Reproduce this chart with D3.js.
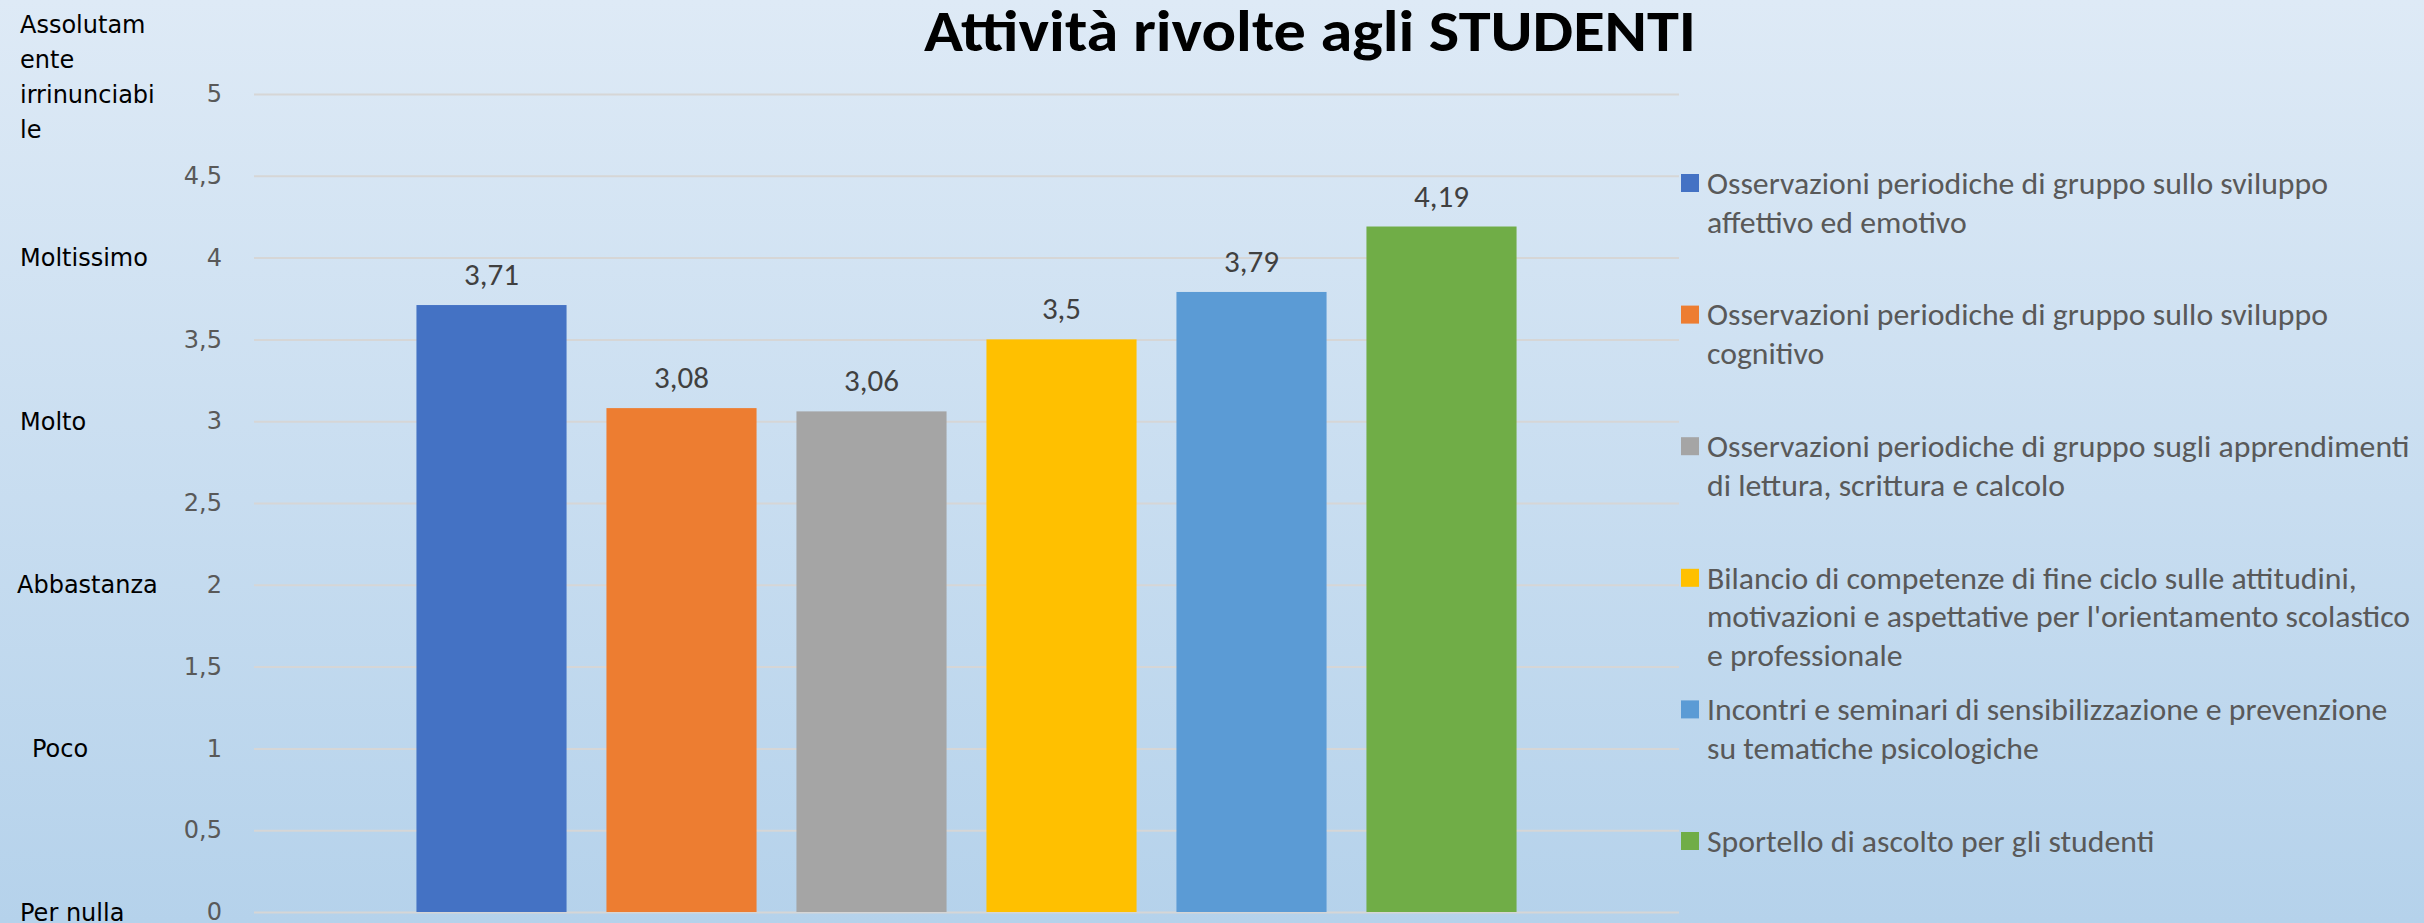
<!DOCTYPE html>
<html>
<head>
<meta charset="utf-8">
<script src="https://cdn.jsdelivr.net/npm/d3@7"></script>
<style>
  body { margin: 0; }
</style>
</head>
<body>
<div id="chart"></div>
<script>
const title = "Attività rivolte agli STUDENTI";
const categories = [
  "Osservazioni periodiche di gruppo sullo sviluppo affettivo ed emotivo",
  "Osservazioni periodiche di gruppo sullo sviluppo cognitivo",
  "Osservazioni periodiche di gruppo sugli apprendimenti di lettura, scrittura e calcolo",
  "Bilancio di competenze di fine ciclo sulle attitudini, motivazioni e aspettative per l'orientamento scolastico e professionale",
  "Incontri e seminari di sensibilizzazione e prevenzione su tematiche psicologiche",
  "Sportello di ascolto per gli studenti"
];
const values = [3.71, 3.08, 3.06, 3.5, 3.79, 4.19];
const colors = ["#4472C4", "#ED7D31", "#A5A5A5", "#FFC000", "#5B9BD5", "#70AD47"];
// legend text as it wraps in the original
const legendLines = [
  ["Osservazioni periodiche di gruppo sullo sviluppo", "affettivo ed emotivo"],
  ["Osservazioni periodiche di gruppo sullo sviluppo", "cognitivo"],
  ["Osservazioni periodiche di gruppo sugli apprendimenti", "di lettura, scrittura e calcolo"],
  ["Bilancio di competenze di fine ciclo sulle attitudini,", "motivazioni e aspettative per l'orientamento scolastico", "e professionale"],
  ["Incontri e seminari di sensibilizzazione e prevenzione", "su tematiche psicologiche"],
  ["Sportello di ascolto per gli studenti"]
];
const yTicks = [0, 0.5, 1, 1.5, 2, 2.5, 3, 3.5, 4, 4.5, 5];
const scaleValues = [5, 4, 3, 2, 1, 0];
const scaleLabels = [
  ["Assolutam", "ente", "irrinunciabi", "le"],
  ["Moltissimo"],
  ["Molto"],
  ["Abbastanza"],
  ["Poco"],
  ["Per nulla"]
];

const width = 2424, height = 923;
const plot = { left: 254, right: 1679, top: 94, bottom: 912 };
const calibri = "Carlito, Lato, 'Open Sans', sans-serif";
const verdana = "'DejaVu Sans', Verdana, sans-serif";

const svg = d3.select("#chart").append("svg")
  .attr("width", width)
  .attr("height", height);

// background gradient
const grad = svg.append("defs").append("linearGradient")
  .attr("id", "bg").attr("x1", 0).attr("y1", 0).attr("x2", 0).attr("y2", 1);
grad.append("stop").attr("offset", "0%").attr("stop-color", "#deeaf6");
grad.append("stop").attr("offset", "100%").attr("stop-color", "#b5d2eb");
svg.append("rect").attr("width", width).attr("height", height).attr("fill", "url(#bg)");

const it = d3.formatLocale({ decimal: ",", thousands: ".", grouping: [3], currency: ["€", ""] });
const fmt = it.format("~g");

const y = d3.scaleLinear().domain([0, 5]).range([plot.bottom, plot.top]);
const x = d3.scaleBand()
  .domain(categories)
  .range([plot.left, plot.right])
  .paddingInner(0.21)
  .paddingOuter(0.855);

// y axis with gridlines
const yAxis = svg.append("g")
  .attr("transform", `translate(${plot.left},0)`)
  .call(d3.axisLeft(y)
    .tickValues(yTicks)
    .tickSize(-(plot.right - plot.left))
    .tickPadding(32)
    .tickFormat(fmt));
yAxis.select(".domain").remove();
yAxis.selectAll(".tick line").attr("stroke", "#d6d6d6").attr("stroke-width", 2);
yAxis.selectAll(".tick text")
  .attr("fill", "#595959")
  .style("font-family", verdana)
  .style("font-size", "24px");

// bars
svg.append("g").selectAll("rect")
  .data(values)
  .join("rect")
  .attr("x", (d, i) => x(categories[i]))
  .attr("y", d => y(d))
  .attr("width", x.bandwidth())
  .attr("height", d => y(0) - y(d))
  .attr("fill", (d, i) => colors[i]);

// value labels
const valueText = svg.append("g").selectAll("text")
  .data(values)
  .join("text")
  .attr("x", (d, i) => x(categories[i]) + x.bandwidth() / 2)
  .attr("y", d => y(d) - 20)
  .attr("text-anchor", "middle")
  .attr("fill", "#404040")
  .style("font-family", calibri)
  .style("font-size", "31px")
  .text(d => fmt(d));

// scale words on the left
const labelX = { "Abbastanza": 17, "Poco": 32 };
scaleLabels.forEach((lines, i) => {
  const anchor = lines.length > 1 ? 2 : 0;
  const t = svg.append("text")
    .attr("fill", "#000")
    .style("font-family", verdana)
    .style("font-size", "24px");
  lines.forEach((line, j) => {
    t.append("tspan")
      .attr("x", labelX[line] || 20)
      .attr("y", y(scaleValues[i]) + (j - anchor) * 35)
      .attr("dy", "0.36em")
      .text(line);
  });
});

// title
const titleText = svg.append("text")
  .attr("x", 1310)
  .attr("y", 51)
  .attr("text-anchor", "middle")
  .attr("fill", "#000")
  .style("font-family", calibri)
  .style("font-size", "58px")
  .style("font-weight", "bold")
  .text(title);

// legend
const legend = svg.append("g").attr("transform", "translate(1681,183)");
const items = legend.selectAll("g")
  .data(legendLines)
  .join("g")
  .attr("transform", (d, i) => `translate(0,${i * 131.6})`);
items.append("rect")
  .attr("x", 0).attr("y", -9)
  .attr("width", 18).attr("height", 18)
  .attr("fill", (d, i) => colors[i]);
const legendText = items.selectAll("text")
  .data(d => d)
  .join("text")
  .attr("x", 26)
  .attr("y", (d, j) => j * 38.7)
  .attr("dy", "0.35em")
  .attr("fill", "#595959")
  .style("font-family", calibri)
  .style("font-size", "31px")
  .text(d => d);

// squeeze the fallback font to the Calibri widths of the original
const ref = legendText.node().getComputedTextLength();
const k = 621 / ref;
legendText.merge(valueText).each(function () {
  const len = this.getComputedTextLength();
  d3.select(this).attr("textLength", len * k).attr("lengthAdjust", "spacingAndGlyphs");
});
titleText.attr("textLength", 772).attr("lengthAdjust", "spacingAndGlyphs");
</script>
</body>
</html>
